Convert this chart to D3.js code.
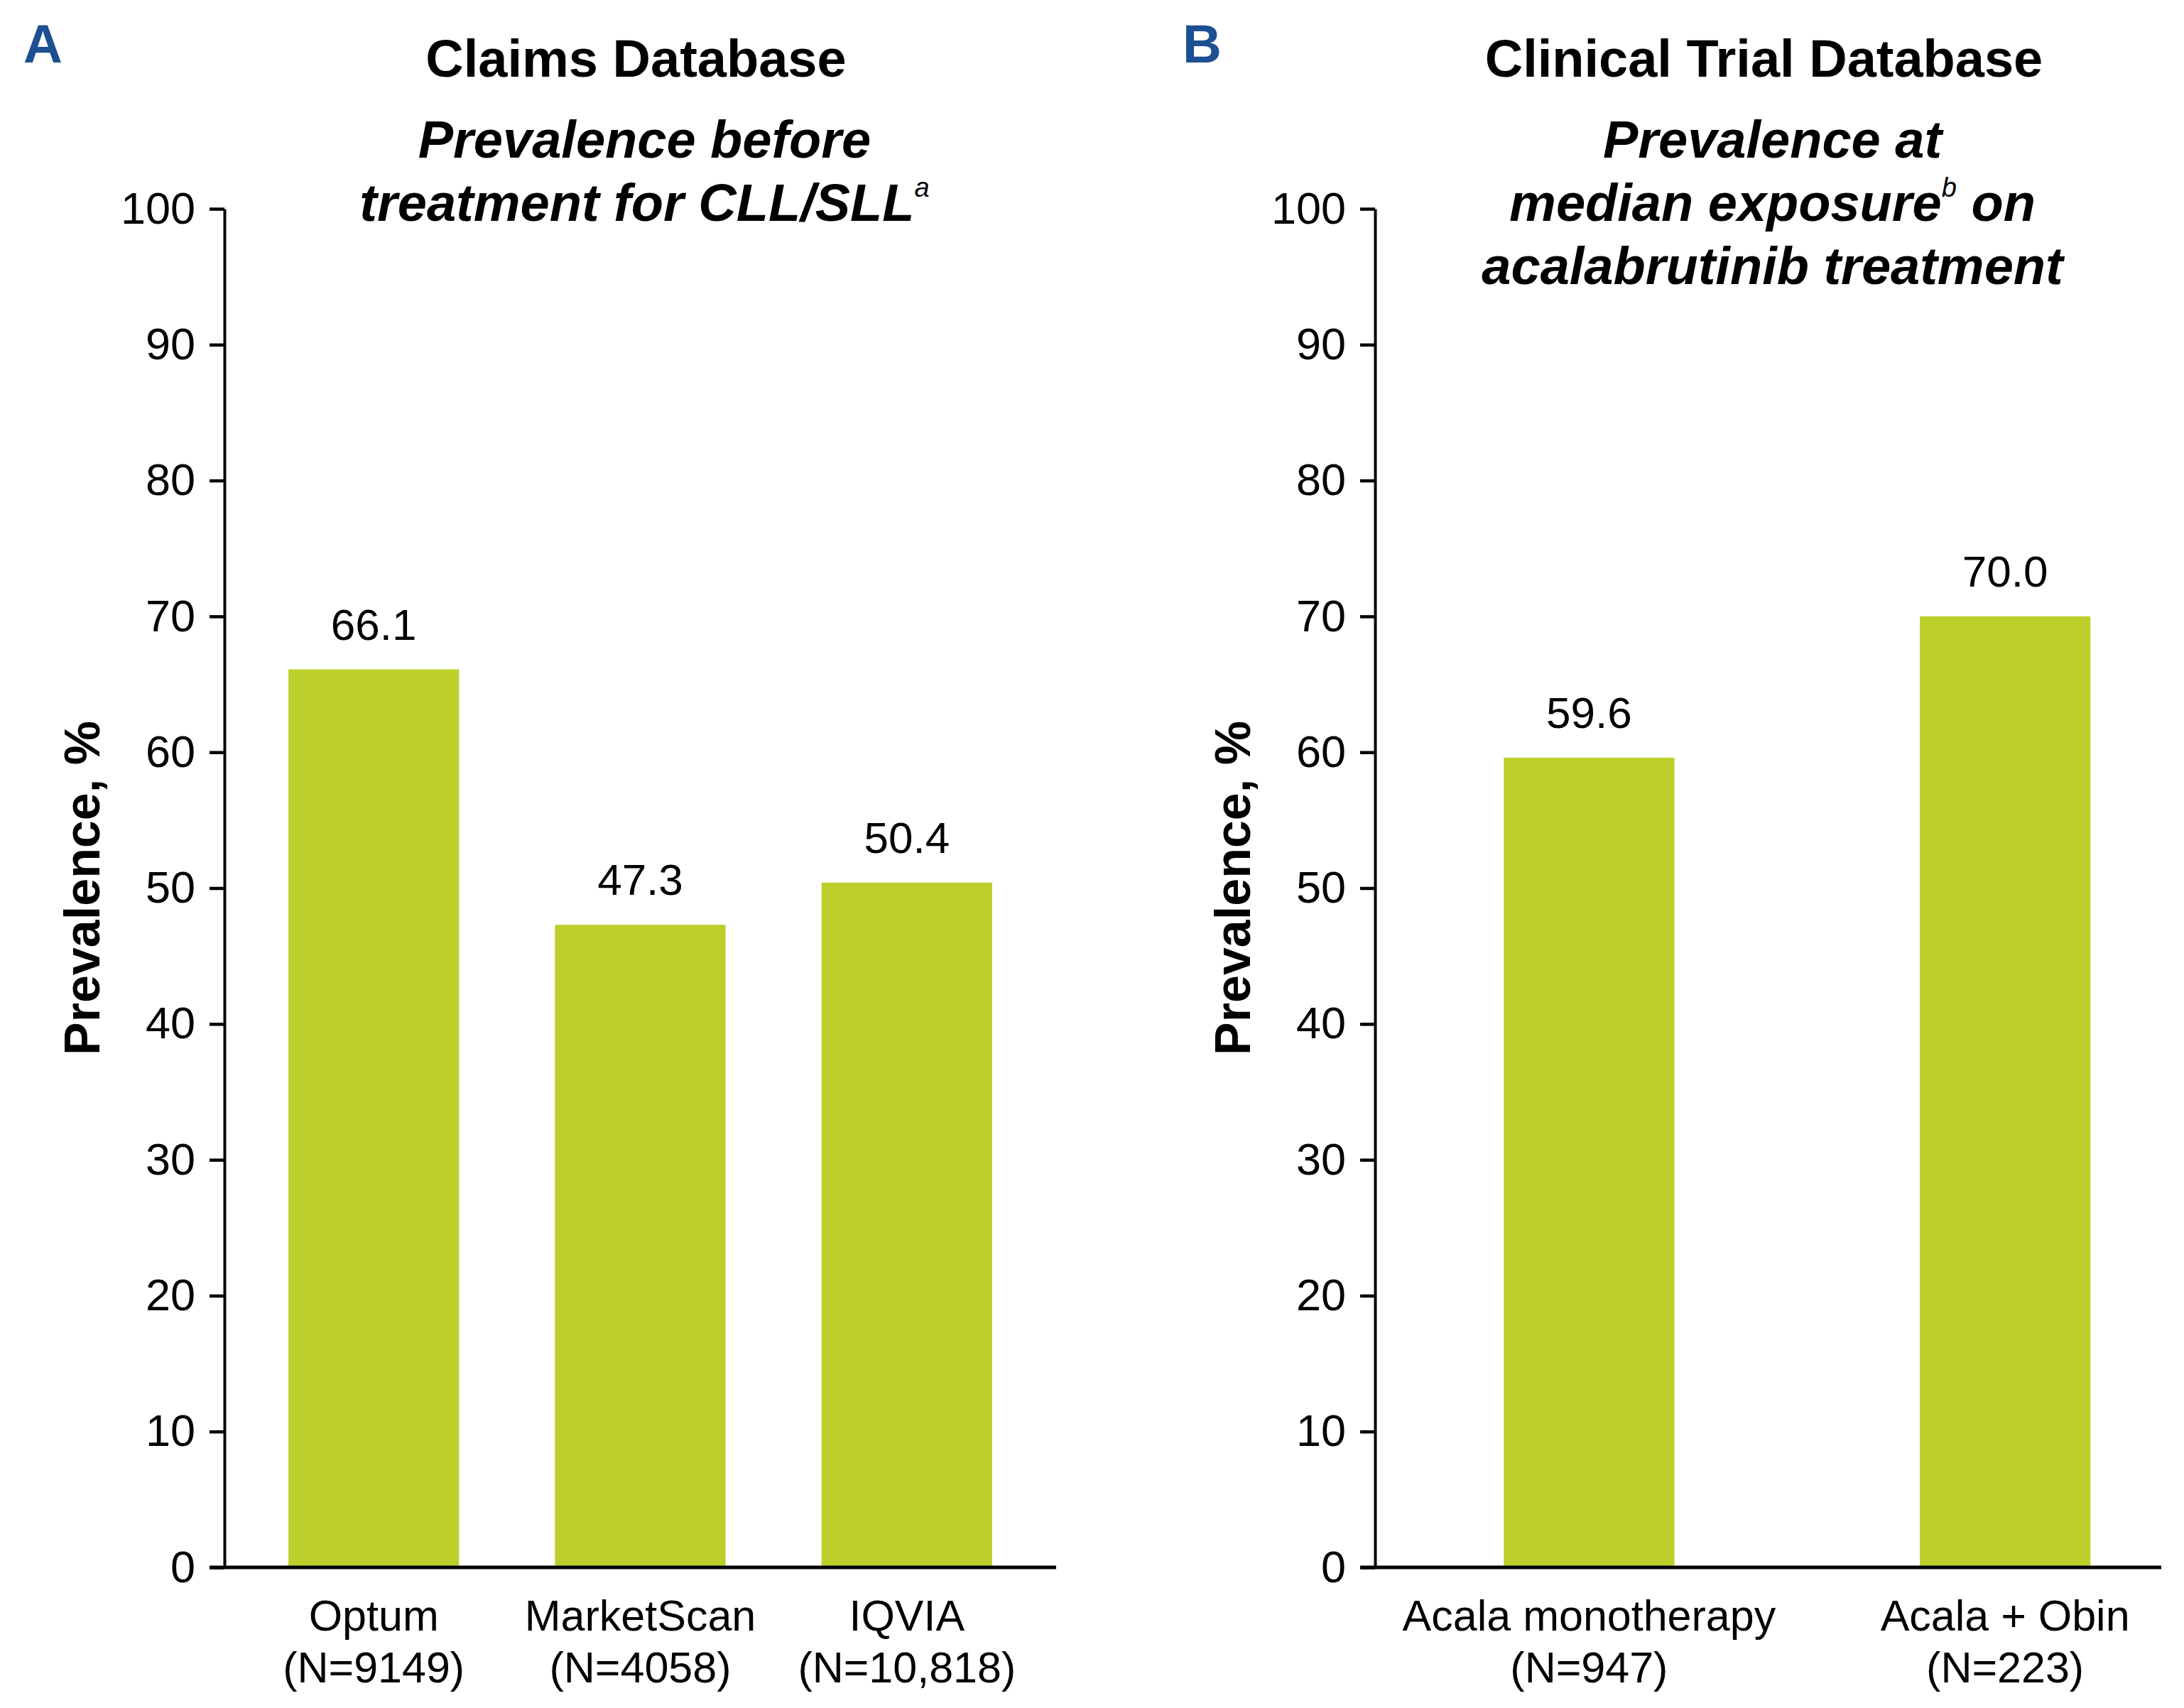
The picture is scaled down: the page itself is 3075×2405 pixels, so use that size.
<!DOCTYPE html>
<html>
<head>
<meta charset="utf-8">
<script src="https://cdn.jsdelivr.net/npm/d3@7"></script>
<style>
  body { margin: 0; background: #fff; }
  svg { display: block; font-family: "Liberation Sans", Arial, sans-serif; }
</style>
</head>
<body>
<div id="chart"></div>
<script>
// values
const claimsCategories = ['Optum', 'MarketScan', 'IQVIA'];
const claimsN = ['(N=9149)', '(N=4058)', '(N=10,818)'];
const claimsValues = [66.1, 47.3, 50.4];

const trialCategories = ['Acala monotherapy', 'Acala + Obin'];
const trialN = ['(N=947)', '(N=223)'];
const trialValues = [59.6, 70.0];

const yTicks = [0, 10, 20, 30, 40, 50, 60, 70, 80, 90, 100];

const width = 3075;
const height = 2405;
const barColor = '#bccf2a';
const letterColor = '#1d4f91';

const svg = d3.select('#chart')
   .append('svg')
   .attr('width', width)
   .attr('height', height);

const y = d3.scaleLinear()
   .domain([0, 100])
   .range([2207, 294]);

function drawPanel(opts) {
   const g = svg.append('g');

   const x = d3.scaleBand()
      .domain(opts.categories)
      .range([opts.x0, opts.x1])
      .paddingInner(opts.inner)
      .paddingOuter(0.24)
      .align(opts.align);

   // panel letter
   g.append('text')
      .attr('x', opts.letterX)
      .attr('y', 88)
      .attr('font-size', 76)
      .attr('font-weight', 'bold')
      .attr('fill', letterColor)
      .text(opts.letter);

   const cx = (opts.x0 + opts.x1) / 2;

   g.append('text')
      .attr('x', cx - 6)
      .attr('y', 108)
      .attr('text-anchor', 'middle')
      .attr('font-size', 74)
      .attr('font-weight', 'bold')
      .text(opts.title);

   opts.subtitle.forEach(function(line, i) {
      const t = g.append('text')
         .attr('x', cx + 6)
         .attr('y', 222 + i * 89)
         .attr('text-anchor', 'middle')
         .attr('font-size', 74)
         .attr('font-weight', 'bold')
         .attr('font-style', 'italic');
      line.forEach(function(part) {
         if (part.sup) {
            t.append('tspan')
               .attr('font-size', 38)
               .attr('font-weight', 'normal')
               .attr('dy', -34)
               .text(part.text);
         } else {
            t.append('tspan').attr('dy', part.after ? 34 : null).text(part.text);
         }
      });
   });

   // y axis
   const yAxis = g.append('g')
      .attr('transform', 'translate(' + opts.x0 + ',0)')
      .call(d3.axisLeft(y).tickValues(yTicks).tickSize(21).tickPadding(20).tickSizeOuter(0));
   yAxis.select('.domain').attr('stroke', '#000').attr('stroke-width', 4);
   yAxis.selectAll('.tick line').attr('stroke', '#000').attr('stroke-width', 4.5);
   yAxis.selectAll('.tick text')
      .attr('font-size', 63)
      .attr('font-family', '"Liberation Sans", Arial, sans-serif')
      .attr('fill', '#000');

   g.append('text')
      .attr('transform', 'translate(' + (opts.x0 - 176) + ',' + ((y(0) + y(100)) / 2) + ') rotate(-90)')
      .attr('text-anchor', 'middle')
      .attr('font-size', 70)
      .attr('font-weight', 'bold')
      .text('Prevalence, %');

   // bars
   g.selectAll('.bar')
      .data(opts.values)
      .enter()
      .append('rect')
      .attr('class', 'bar')
      .attr('x', function(d, i) { return x(opts.categories[i]); })
      .attr('y', function(d) { return y(d); })
      .attr('width', x.bandwidth())
      .attr('height', function(d) { return y(0) - y(d); })
      .attr('fill', barColor);

   g.selectAll('.val')
      .data(opts.values)
      .enter()
      .append('text')
      .attr('class', 'val')
      .attr('x', function(d, i) { return x(opts.categories[i]) + x.bandwidth() / 2; })
      .attr('y', function(d) { return y(d) - 42; })
      .attr('text-anchor', 'middle')
      .attr('font-size', 62)
      .text(function(d) { return d.toFixed(1); });

   // x axis baseline, starts under the y tick
   g.append('line')
      .attr('x1', opts.x0 - 21)
      .attr('x2', opts.x1)
      .attr('y1', y(0))
      .attr('y2', y(0))
      .attr('stroke', '#000')
      .attr('stroke-width', 5);

   const xLabels = g.selectAll('.xlab')
      .data(opts.categories)
      .enter()
      .append('text')
      .attr('class', 'xlab')
      .attr('text-anchor', 'middle')
      .attr('font-size', 61);
   xLabels.append('tspan')
      .attr('x', function(d) { return x(d) + x.bandwidth() / 2; })
      .attr('y', y(0) + 89)
      .text(function(d) { return d; });
   xLabels.append('tspan')
      .attr('x', function(d) { return x(d) + x.bandwidth() / 2; })
      .attr('y', y(0) + 162)
      .text(function(d, i) { return opts.ns[i]; });
}

drawPanel({
   letter: 'A',
   letterX: 33,
   title: 'Claims Database',
   subtitle: [
      [{ text: 'Prevalence before' }],
      [{ text: 'treatment for CLL/SLL' }, { text: 'a', sup: true }]
   ],
   categories: claimsCategories,
   ns: claimsN,
   values: claimsValues,
   x0: 316,
   x1: 1487,
   inner: 0.36,
   align: 0.5
});

drawPanel({
   letter: 'B',
   letterX: 1665,
   title: 'Clinical Trial Database',
   subtitle: [
      [{ text: 'Prevalence at' }],
      [{ text: 'median exposure' }, { text: 'b', sup: true }, { text: ' on', after: true }],
      [{ text: 'acalabrutinib treatment' }]
   ],
   categories: trialCategories,
   ns: trialN,
   values: trialValues,
   x0: 1936,
   x1: 3043,
   inner: 0.59,
   align: 0.645
});
</script>
</body>
</html>
